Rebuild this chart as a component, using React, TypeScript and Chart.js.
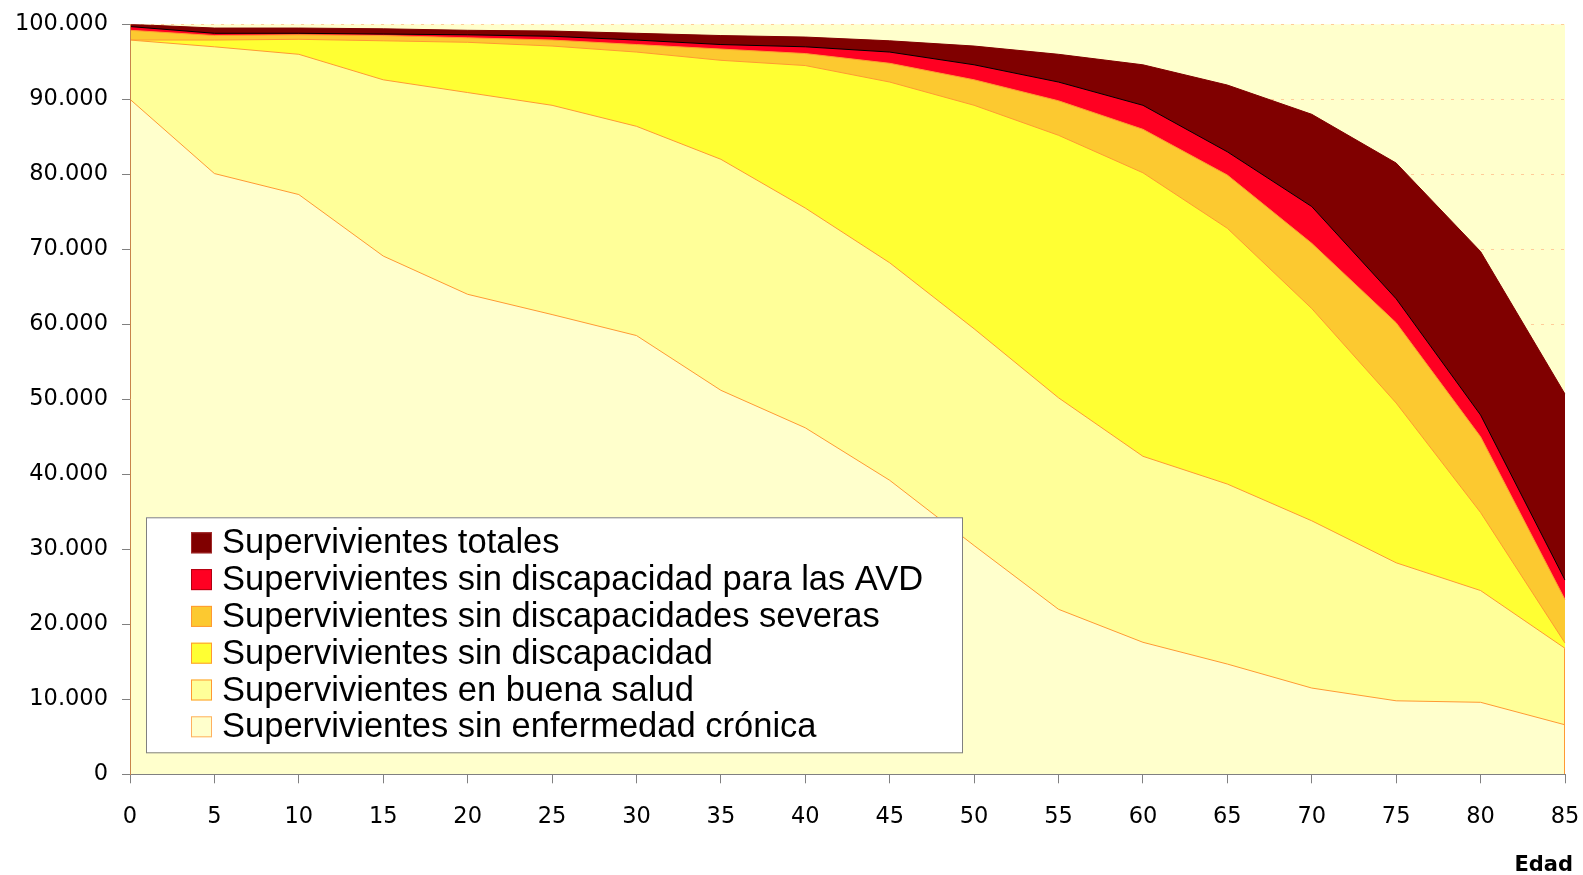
import React, { useEffect, useRef } from "react";
import { Chart, registerables } from "chart.js";

Chart.register(...registerables);

// ---- Data ----
const ages = ["0", "5", "10", "15", "20", "25", "30", "35", "40", "45", "50", "55", "60", "65", "70", "75", "80", "85"];
const yTickValues = [0, 10000, 20000, 30000, 40000, 50000, 60000, 70000, 80000, 90000, 100000];
const axisTitleX = "Edad";

const seriesLabels = [
  "Supervivientes totales",
  "Supervivientes sin discapacidad para las AVD",
  "Supervivientes sin discapacidades severas",
  "Supervivientes sin discapacidad",
  "Supervivientes en buena salud",
  "Supervivientes sin enfermedad crónica",
];

const totales = [100000, 99500, 99500, 99400, 99200, 99100, 98800, 98500, 98300, 97800, 97100, 96000, 94600, 91900, 88000, 81500, 69700, 50700];
const sinAVD = [99700, 98800, 98800, 98700, 98600, 98400, 97900, 97300, 97000, 96300, 94600, 92300, 89200, 83000, 75700, 63400, 47900, 25900];
const sinSeveras = [99200, 98500, 98600, 98500, 98200, 97900, 97300, 96700, 96100, 94800, 92600, 89800, 86000, 79900, 70800, 60200, 45000, 23300];
const sinDiscapacidad = [97900, 97900, 98000, 97800, 97600, 97100, 96300, 95200, 94500, 92300, 89200, 85200, 80200, 72800, 62100, 49500, 34900, 17500];
const buenaSalud = [97900, 97000, 96000, 92600, 90900, 89200, 86400, 82000, 75500, 68200, 59400, 50200, 42400, 38700, 33800, 28200, 24500, 16800];
const sinCronica = [90000, 80100, 77300, 69100, 64000, 61300, 58500, 51200, 46200, 39200, 30500, 22000, 17600, 14700, 11500, 9800, 9600, 6600];

const seriesValues = [totales, sinAVD, sinSeveras, sinDiscapacidad, buenaSalud, sinCronica];

// ---- Styles ----
const fillColors = ["#800000", "#FF0022", "#FCC930", "#FFFF33", "#FFFF99", "#FFFFCC"];
const lineColors = ["#800000", "#000000", "#FF9933", "#FF9933", "#FF9933", "#FF9933"];
const markerBorders = ["#A02828", "#B00010", "#FF9933", "#FF9933", "#FF9933", "#FFB060"];

const fmt = (v: number) => String(Math.round(v)).replace(/\B(?=(\d{3})+(?!\d))/g, ".");

const TICK_FONT = { family: "'DejaVu Sans', sans-serif", size: 22.5 };

const plotBg = {
  id: "plotBg",
  beforeDraw(chart: any) {
    const { ctx, chartArea: a } = chart;
    ctx.save();
    ctx.fillStyle = "#FFFFCC";
    ctx.fillRect(a.left, a.top, a.right - a.left, a.bottom - a.top);
    ctx.restore();
  },
};

// right-hand closing edge of the lower areas (as in the spreadsheet's area borders)
const areaEdge = {
  id: "areaEdge",
  afterDatasetsDraw(chart: any) {
    const { ctx, scales } = chart;
    const last = ages.length - 1;
    const x = Math.round(scales.x.getPixelForValue(last)) - 0.5;
    const yTop = scales.y.getPixelForValue(buenaSalud[last]);
    const yBot = scales.y.getPixelForValue(0);
    ctx.save();
    ctx.strokeStyle = "#FF9933";
    ctx.lineWidth = 1;
    ctx.beginPath();
    ctx.moveTo(x, yTop);
    ctx.lineTo(x, yBot);
    ctx.stroke();
    ctx.restore();
  },
};

const boxLegend = {
  id: "boxLegend",
  afterDraw(chart: any) {
    const { ctx, chartArea: a } = chart;
    const bw = 816;
    const bh = 235;
    const bx = a.left + 16;
    const by = a.bottom - 22 - bh;
    ctx.save();
    ctx.fillStyle = "#FFFFFF";
    ctx.fillRect(bx, by, bw, bh);
    ctx.strokeStyle = "#808080";
    ctx.lineWidth = 1;
    ctx.strokeRect(bx + 0.5, by + 0.5, bw, bh);
    ctx.font = "34.5px 'Liberation Sans', Arial, sans-serif";
    ctx.textBaseline = "middle";
    ctx.textAlign = "left";
    seriesLabels.forEach((label, i) => {
      const cy = by + 25.5 + i * 36.8;
      ctx.fillStyle = fillColors[i];
      ctx.fillRect(bx + 45, cy - 10.5, 21, 21);
      ctx.strokeStyle = markerBorders[i];
      ctx.strokeRect(bx + 45.5, cy - 10, 20, 20);
      ctx.fillStyle = "#000000";
      ctx.fillText(label, bx + 76, cy + 1);
    });
    // axis title
    ctx.font = "bold 21px 'DejaVu Sans', sans-serif";
    ctx.textAlign = "right";
    ctx.fillText(axisTitleX, a.right + 8, a.bottom + 91);
    ctx.restore();
  },
};

export default function App() {
  const ref = useRef<HTMLCanvasElement | null>(null);

  useEffect(() => {
    document.body.style.margin = "0";
    const canvas = ref.current;
    if (!canvas) return;
    const datasets = seriesValues.map((vals, i) => ({
      label: seriesLabels[i],
      data: vals,
      backgroundColor: fillColors[i],
      borderColor: lineColors[i],
      borderWidth: 1,
      pointRadius: 0,
      tension: 0,
      fill: "origin",
      order: seriesValues.length - i,
    }));

    const chart = new Chart(canvas, {
      type: "line",
      data: { labels: ages, datasets },
      plugins: [plotBg, areaEdge, boxLegend],
      options: {
        animation: false,
        responsive: false,
        maintainAspectRatio: false,
        events: [],
        layout: { padding: { left: 0, top: 24.3, right: 18, bottom: 0 } },
        plugins: {
          legend: { display: false },
          tooltip: { enabled: false },
          title: { display: false },
        },
        scales: {
          x: {
            type: "category",
            offset: false,
            afterFit: (s: any) => {
              s.height = 100.7;
              s.paddingLeft = 0;
              s.paddingRight = 0;
            },
            grid: {
              display: true,
              drawOnChartArea: false,
              drawTicks: true,
              tickLength: 9,
              tickColor: "#808080",
              tickWidth: 1,
            },
            border: { display: true, color: "#808080", width: 1, z: 1 },
            ticks: {
              autoSkip: false,
              maxRotation: 0,
              minRotation: 0,
              color: "#000000",
              font: TICK_FONT,
              padding: 20,
            },
          },
          y: {
            min: 0,
            max: 100000,
            afterFit: (s: any) => {
              s.width = 130;
              s.paddingTop = 0;
              s.paddingBottom = 0;
            },
            afterBuildTicks: (s: any) => {
              s.ticks = yTickValues.map((v) => ({ value: v }));
            },
            grid: {
              display: true,
              drawOnChartArea: true,
              color: "#FFCC99",
              lineWidth: 1,
              drawTicks: true,
              tickLength: 8,
              tickColor: "#808080",
              tickWidth: 1,
              tickBorderDash: [],
            },
            border: { display: true, color: "#C8844A", width: 1, z: 1, dash: [3, 7] },
            ticks: {
              color: "#000000",
              font: TICK_FONT,
              padding: 14,
              callback: (v: any) => fmt(Number(v)),
            },
          },
        },
      } as any,
    });
    return () => chart.destroy();
  }, []);

  return (
    <div style={{ position: "fixed", left: 0, top: 0, width: 1583, height: 875, background: "#FFFFFF" }}>
      <canvas ref={ref} width={1583} height={875} style={{ width: 1583, height: 875, display: "block" }} />
    </div>
  );
}
